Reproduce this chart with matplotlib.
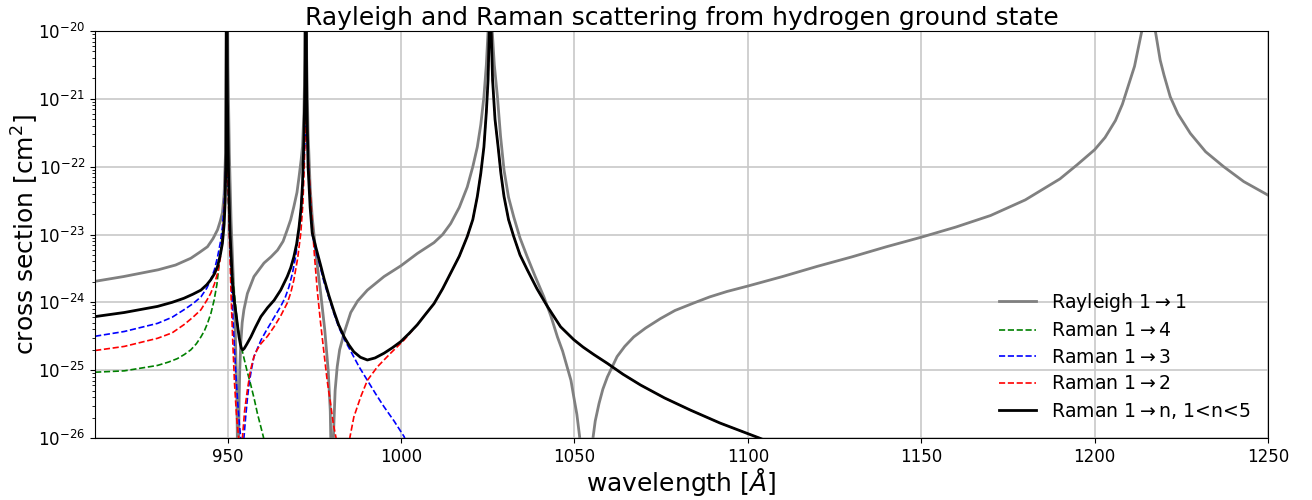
import numpy as np
import matplotlib
matplotlib.use("Agg")
import matplotlib.pyplot as plt

# Rayleigh 1->1 (longitud de onda [A], log10 de la seccion eficaz [cm^2])
wl_ray = [911.8, 920.0, 930.0, 935.0, 939.4, 942.0, 944.2, 945.8, 947.1, 947.9,
          948.5, 949.0, 949.4, 949.74, 950.1, 950.5, 951.0, 951.6, 952.2, 952.7,
          953.0, 953.3, 953.5, 953.8, 954.2, 954.7, 955.7, 957.6, 960.5, 962.5,
          964.4, 966.0, 967.2, 968.2, 969.1, 970.0, 970.6, 971.2, 971.6, 972.0,
          972.3, 972.54, 972.8, 973.2, 973.8, 974.4, 975.5, 976.8, 978.0, 979.0,
          979.6, 980.1, 980.5, 981.0, 981.6, 982.3, 983.6, 985.5, 987.5, 990.3,
          995.1, 1000.0, 1004.7, 1009.5, 1012.0, 1014.3, 1016.8, 1019.1, 1020.7, 1022.0,
          1023.0, 1023.9, 1024.6, 1025.1, 1025.72, 1026.3, 1026.9, 1027.8, 1028.7, 1029.7,
          1031.0, 1032.5, 1034.3, 1036.4, 1038.7, 1041.2, 1043.2, 1045.1, 1046.6, 1047.9,
          1049.0, 1049.8, 1050.7, 1051.5, 1052.4, 1053.3, 1054.4, 1055.4, 1056.0, 1057.1,
          1058.2, 1059.5, 1061.0, 1062.3, 1064.5, 1067.1, 1070.5, 1074.8, 1079.0, 1084.4,
          1089.0, 1094.0, 1100.0, 1110.0, 1120.0, 1130.0, 1140.0, 1150.0, 1160.0, 1170.0,
          1180.0, 1190.0, 1195.0, 1200.0, 1203.0, 1206.0, 1208.0, 1210.0, 1211.5, 1212.8,
          1213.8, 1215.67, 1217.5, 1218.9, 1220.0, 1221.8, 1224.0, 1227.6, 1232.0, 1237.2,
          1243.0, 1250.0]
lg_ray = [-23.69, -23.62, -23.52, -23.45, -23.35, -23.26, -23.18, -23.06, -22.93, -22.80,
          -22.68, -22.40, -21.80, -18.0, -20.5, -21.8, -22.8, -23.6, -24.4, -25.5,
          -27.0, -25.5, -25.0, -24.6, -24.3, -24.11, -23.87, -23.62, -23.42, -23.33,
          -23.23, -23.10, -22.93, -22.78, -22.59, -22.38, -22.15, -21.90, -21.70, -21.20,
          -20.40, -18.0, -20.4, -21.5, -22.3, -22.75, -23.30, -23.85, -24.40, -25.00,
          -25.60, -27.0, -26.0, -25.3, -24.95, -24.70, -24.45, -24.15, -23.98, -23.82,
          -23.62, -23.46, -23.28, -23.12, -23.00, -22.84, -22.60, -22.30, -22.00, -21.71,
          -21.38, -20.97, -20.50, -20.00, -18.0, -20.0, -20.5, -20.97, -21.55, -22.05,
          -22.45, -22.74, -23.05, -23.33, -23.62, -23.92, -24.20, -24.51, -24.72, -24.95,
          -25.15, -25.39, -25.65, -25.98, -26.5, -28.0, -26.5, -25.98, -25.75, -25.49,
          -25.28, -25.10, -24.94, -24.80, -24.65, -24.51, -24.38, -24.24, -24.12, -24.01,
          -23.92, -23.84, -23.76, -23.62, -23.47, -23.33, -23.18, -23.04, -22.89, -22.72,
          -22.49, -22.18, -21.97, -21.75, -21.57, -21.32, -21.08, -20.76, -20.52, -20.20,
          -19.95, -17.0, -20.0, -20.43, -20.65, -20.97, -21.22, -21.51, -21.78, -22.00,
          -22.22, -22.42]

# Raman 1->4
wl_g = [911.8, 920.2, 929.8, 933.0, 935.5, 937.5, 939.4, 941.0, 942.3, 943.3,
        944.2, 945.2, 946.1, 946.9, 947.5, 948.0, 948.5, 949.0, 949.4, 949.74,
        950.05, 950.5, 951.0, 951.9, 952.8, 953.7, 954.7, 955.7, 956.7, 957.7,
        958.6, 959.5, 960.3, 961.5]
lg_g = [-25.03, -25.01, -24.93, -24.88, -24.83, -24.77, -24.70, -24.61, -24.51, -24.42,
        -24.31, -24.16, -23.97, -23.74, -23.47, -23.23, -22.98, -22.70, -22.30, -21.70,
        -22.20, -22.90, -23.40, -23.85, -24.30, -24.60, -24.82, -25.03, -25.22, -25.43,
        -25.64, -25.82, -25.98, -26.30]

# Raman 1->3
wl_b = [911.8, 920.2, 929.8, 934.0, 937.4, 940.0, 942.3, 944.0, 945.1, 946.2,
        947.1, 947.9, 948.5, 949.0, 949.4, 949.74, 950.05, 950.5, 951.0, 951.6,
        952.2, 952.8, 953.4, 953.8, 954.2, 954.7, 955.2, 955.7, 956.2, 956.9,
        957.6, 959.6, 961.0, 962.4, 965.3, 966.6, 967.7, 968.7, 969.6, 970.4,
        971.1, 971.7, 972.54, 973.0, 973.4, 974.0, 974.4, 975.5, 976.8, 977.8,
        979.2, 980.7, 982.0, 983.6, 985.5, 987.9, 990.3, 992.7, 995.1, 998.0,
        1000.9, 1003.0]
lg_b = [-24.50, -24.43, -24.31, -24.22, -24.11, -24.02, -23.92, -23.79, -23.67, -23.52,
        -23.33, -23.12, -22.89, -22.55, -22.10, -21.60, -22.00, -22.90, -23.60, -24.30,
        -24.90, -25.40, -25.80, -26.00, -27.50, -26.00, -25.69, -25.42, -25.20, -24.98,
        -24.80, -24.56, -24.43, -24.31, -24.06, -23.93, -23.77, -23.57, -23.33, -23.00,
        -22.64, -22.20, -21.40, -21.60, -22.10, -22.70, -23.00, -23.25, -23.50, -23.70,
        -23.93, -24.17, -24.36, -24.54, -24.72, -24.95, -25.15, -25.35, -25.54, -25.75,
        -25.98, -26.30]

# Raman 1->2 (hasta 1005 A; despues coincide con la suma)
wl_r = [911.8, 920.2, 929.8, 934.0, 937.4, 940.0, 942.3, 944.0, 945.1, 946.2,
        947.1, 947.9, 948.5, 949.0, 949.4, 949.74, 950.05, 950.5, 951.0, 951.5,
        952.0, 952.6, 953.2, 953.8, 954.3, 954.9, 955.7, 956.6, 957.6, 958.5,
        959.6, 961.5, 963.4, 965.3, 967.2, 968.2, 969.1, 970.2, 971.1, 971.7,
        972.1, 972.54, 973.0, 973.5, 974.4, 975.1, 975.9, 976.8, 977.8, 978.7,
        979.7, 980.5, 981.2, 982.2, 983.2, 984.3, 985.3, 986.4, 988.4, 990.3,
        993.2, 997.0, 1000.8, 1004.7]
lg_r = [-24.71, -24.65, -24.53, -24.45, -24.33, -24.22, -24.11, -23.97, -23.87, -23.73,
        -23.57, -23.35, -23.08, -22.70, -22.20, -21.50, -22.10, -23.00, -23.90, -24.60,
        -25.20, -25.70, -26.00, -27.50, -25.98, -25.60, -25.29, -25.00, -24.80, -24.70,
        -24.61, -24.50, -24.36, -24.20, -24.01, -23.86, -23.67, -23.35, -22.98, -22.55,
        -22.00, -21.20, -21.70, -22.10, -22.85, -23.35, -23.85, -24.30, -24.75, -25.15,
        -25.50, -25.80, -25.98, -26.30, -27.50, -26.40, -25.98, -25.69, -25.39, -25.15,
        -24.95, -24.75, -24.56, -24.33]

# Raman 1->n, 1<n<5 (suma)
wl_tot = [911.8, 920.2, 929.8, 934.0, 937.4, 940.0, 942.3, 944.0, 945.1, 946.2,
          947.1, 947.9, 948.5, 949.0, 949.3, 949.55, 949.74, 949.95, 950.3, 950.7,
          951.1, 951.4, 951.9, 952.4, 952.9, 953.3, 953.7, 954.0, 954.4, 954.8,
          955.5, 956.7, 958.0, 959.6, 961.5, 963.4, 965.3, 967.2, 968.2, 969.1,
          969.9, 970.6, 971.2, 971.6, 972.0, 972.3, 972.54, 972.8, 973.2, 973.8,
          974.4, 975.5, 976.8, 977.8, 979.2, 980.7, 982.0, 983.6, 985.0, 986.4,
          988.3, 990.3, 992.5, 995.1, 997.5, 999.9, 1002.3, 1004.7, 1007.0, 1009.5,
          1012.0, 1014.3, 1016.8, 1019.1, 1020.7, 1022.0, 1023.0, 1023.9, 1024.6, 1025.1,
          1025.45, 1025.72, 1026.0, 1026.4, 1027.1, 1028.0, 1028.8, 1029.7, 1031.0, 1032.5,
          1034.3, 1036.4, 1039.2, 1042.2, 1046.0, 1049.8, 1052.5, 1055.6, 1059.5, 1064.0,
          1069.1, 1076.0, 1083.5, 1092.0, 1103.3, 1108.0]
lg_tot = [-24.21, -24.15, -24.06, -24.00, -23.94, -23.88, -23.82, -23.74, -23.67, -23.58,
          -23.47, -23.30, -23.13, -22.85, -22.50, -21.80, -18.0, -21.0, -22.2, -22.98,
          -23.40, -23.72, -23.97, -24.16, -24.36, -24.51, -24.62, -24.68, -24.70, -24.68,
          -24.62, -24.51, -24.37, -24.21, -24.08, -23.97, -23.82, -23.62, -23.49, -23.33,
          -23.14, -22.89, -22.60, -22.25, -21.60, -20.80, -18.0, -21.0, -22.0, -22.6,
          -22.98, -23.20, -23.45, -23.65, -23.90, -24.14, -24.33, -24.51, -24.63, -24.73,
          -24.81, -24.85, -24.82, -24.75, -24.67, -24.58, -24.46, -24.33, -24.18, -24.02,
          -23.80, -23.57, -23.32, -23.03, -22.78, -22.44, -22.10, -21.71, -21.20, -20.72,
          -20.0, -18.0, -20.0, -20.72, -21.30, -21.71, -22.10, -22.44, -22.78, -23.03,
          -23.30, -23.52, -23.80, -24.06, -24.36, -24.55, -24.66, -24.77, -24.90, -25.06,
          -25.22, -25.41, -25.59, -25.78, -26.0, -26.1]

# la rama 1->2 continua bajo la curva total
wl_tot_a = np.array(wl_tot)
lg_tot_a = np.array(lg_tot)
tail = wl_tot_a > 1005
wl_r2 = np.concatenate([wl_r, wl_tot_a[tail]])
lg_r2 = np.concatenate([lg_r, lg_tot_a[tail]])

fig = plt.figure(figsize=(13.12, 5.0), dpi=100)
ax = fig.add_axes([0.0724, 0.124, 0.8941, 0.814])

ax.plot(wl_ray, 10.0**np.array(lg_ray), color="gray", lw=2, label=r"Rayleigh 1$\rightarrow$1")
ax.plot(wl_g, 10.0**np.array(lg_g), color="g", ls="--", lw=1.2, label=r"Raman 1$\rightarrow$4")
ax.plot(wl_b, 10.0**np.array(lg_b), color="b", ls="--", lw=1.2, label=r"Raman 1$\rightarrow$3")
ax.plot(wl_r2, 10.0**lg_r2, color="r", ls="--", lw=1.2, label=r"Raman 1$\rightarrow$2")
ax.plot(wl_tot, 10.0**lg_tot_a, color="k", lw=2, label=r"Raman 1$\rightarrow$n, 1<n<5")

ax.set_yscale("log")
ax.set_xlim(911.76, 1250)
ax.set_ylim(1e-26, 1e-20)
ax.set_xticks(np.arange(950, 1251, 50))
ax.tick_params(labelsize=12)
ax.grid(True, color="#c8c8c8", lw=1.2)
ax.set_axisbelow(True)
ax.set_title("Rayleigh and Raman scattering from hydrogen ground state", fontsize=18, pad=4)
ax.set_xlabel(r"wavelength [$\AA$]", fontsize=18, labelpad=0)
ax.set_ylabel(r"cross section [cm$^2$]", fontsize=18, labelpad=-2)
ax.legend(loc="lower right", frameon=False, fontsize=13.6, labelspacing=0.4)

fig.savefig("out.png", dpi=100)
